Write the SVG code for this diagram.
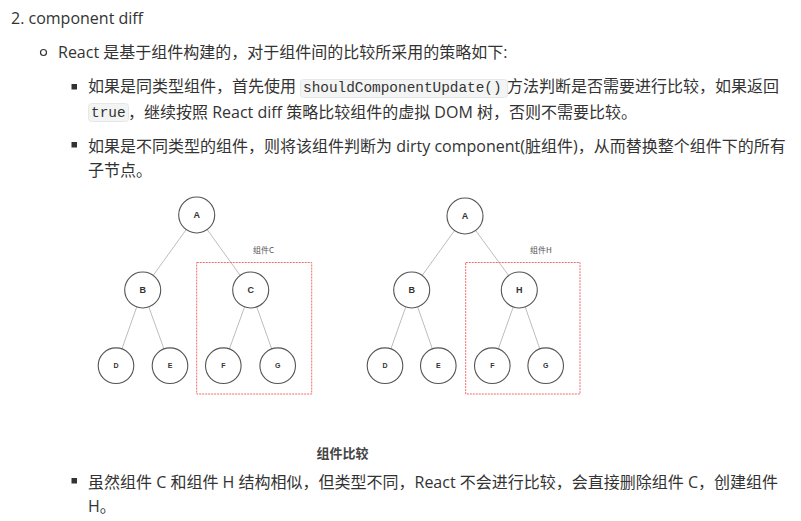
<svg xmlns="http://www.w3.org/2000/svg" width="801" height="521" viewBox="0 0 801 521">
<style>
.t{font-family:"Open Sans","Noto Sans CJK SC",sans-serif;font-size:16px;fill:#333}
.code{font-family:"Liberation Mono","DejaVu Sans Mono",monospace;font-size:14.4px;fill:#333}
.cbg{fill:#f3f4f4;stroke:#e6e8e8;stroke-width:1}
.bul{fill:#333}
.node circle{fill:#fff;stroke:#555;stroke-width:1.1}
.node text{font-family:"Liberation Sans","Noto Sans CJK SC",sans-serif;fill:#333;text-anchor:middle;font-weight:bold}
.big{font-size:9px}
.small{font-size:7px}
.edge{stroke:#bdbdbd;stroke-width:1}
.grp{fill:none;stroke:#f06a6a;stroke-width:1;stroke-dasharray:2 1}
.glabel{font-family:"Noto Sans CJK SC",sans-serif;font-size:8px;fill:#555}
.cap{font-family:"Noto Sans CJK SC",sans-serif;font-size:13px;fill:#444;font-weight:bold}
</style>
<rect width="801" height="521" fill="#fff"/>
<text class="t" x="11" y="24">2. component diff</text>
<circle cx="43.5" cy="52.5" r="3" fill="none" stroke="#333" stroke-width="1.2"/>
<text class="t" x="58" y="58">React 是基于组件构建的，对于组件间的比较所采用的策略如下:</text>
<rect class="bul" x="71.5" y="84" width="5.5" height="5.5"/>
<text class="t" x="88" y="92">如果是同类型组件，首先使用</text>
<rect class="cbg" x="300.5" y="79.5" width="207" height="18" rx="3"/>
<text class="code" x="303" y="92">shouldComponentUpdate()</text>
<text class="t" x="507" y="92">方法判断是否需要进行比较，如果返回</text>
<rect class="cbg" x="88.5" y="103.5" width="40" height="18" rx="3"/>
<text class="code" x="91" y="117">true</text>
<text class="t" x="128" y="118">，继续按照 React diff 策略比较组件的虚拟 DOM 树，否则不需要比较。</text>
<rect class="bul" x="71.5" y="142" width="5.5" height="5.5"/>
<text class="t" x="88" y="152">如果是不同类型的组件，则将该组件判断为 dirty component(脏组件)，从而替换整个组件下的所有</text>
<text class="t" x="88" y="176">子节点。</text>
<g id="connectors">
<line class="edge" x1="196.7" y1="215" x2="142.7" y2="290"/>
<line class="edge" x1="196.7" y1="215" x2="250.7" y2="290"/>
<line class="edge" x1="142.7" y1="290" x2="116" y2="365.7"/>
<line class="edge" x1="142.7" y1="290" x2="170" y2="365.7"/>
<line class="edge" x1="250.7" y1="290" x2="223.3" y2="365.7"/>
<line class="edge" x1="250.7" y1="290" x2="277.7" y2="365.7"/>
<line class="edge" x1="465" y1="216" x2="411.7" y2="290"/>
<line class="edge" x1="465" y1="216" x2="519.3" y2="290"/>
<line class="edge" x1="411.7" y1="290" x2="385" y2="365.7"/>
<line class="edge" x1="411.7" y1="290" x2="438.3" y2="365.7"/>
<line class="edge" x1="519.3" y1="290" x2="492.3" y2="365.7"/>
<line class="edge" x1="519.3" y1="290" x2="545.7" y2="365.7"/>
</g>
<rect class="grp" x="196.7" y="262.5" width="115" height="131.5"/>
<text class="glabel" x="253" y="253">组件C</text>
<rect class="grp" x="465.7" y="262.5" width="114.3" height="131.5"/>
<text class="glabel" x="530" y="253">组件H</text>
<g id="L_A" class="node"><circle cx="196.7" cy="215" r="18"/><text class="big" x="196.7" y="218.3">A</text></g>
<g id="L_B" class="node"><circle cx="142.7" cy="290" r="18"/><text class="big" x="142.7" y="293.3">B</text></g>
<g id="L_C" class="node"><circle cx="250.7" cy="290" r="18"/><text class="big" x="250.7" y="293.3">C</text></g>
<g id="L_D" class="node"><circle cx="116" cy="365.7" r="17.8"/><text class="small" x="116" y="368.2">D</text></g>
<g id="L_E" class="node"><circle cx="170" cy="365.7" r="17.8"/><text class="small" x="170" y="368.2">E</text></g>
<g id="L_F" class="node"><circle cx="223.3" cy="365.7" r="17.8"/><text class="small" x="223.3" y="368.2">F</text></g>
<g id="L_G" class="node"><circle cx="277.7" cy="365.7" r="17.8"/><text class="small" x="277.7" y="368.2">G</text></g>
<g id="R_A" class="node"><circle cx="465" cy="216" r="18"/><text class="big" x="465" y="219.3">A</text></g>
<g id="R_B" class="node"><circle cx="411.7" cy="290" r="18"/><text class="big" x="411.7" y="293.3">B</text></g>
<g id="R_H" class="node"><circle cx="519.3" cy="290" r="18"/><text class="big" x="519.3" y="293.3">H</text></g>
<g id="R_D" class="node"><circle cx="385" cy="365.7" r="17.8"/><text class="small" x="385" y="368.2">D</text></g>
<g id="R_E" class="node"><circle cx="438.3" cy="365.7" r="17.8"/><text class="small" x="438.3" y="368.2">E</text></g>
<g id="R_F" class="node"><circle cx="492.3" cy="365.7" r="17.8"/><text class="small" x="492.3" y="368.2">F</text></g>
<g id="R_G" class="node"><circle cx="545.7" cy="365.7" r="17.8"/><text class="small" x="545.7" y="368.2">G</text></g>
<text class="cap" x="342.5" y="457.5" text-anchor="middle">组件比较</text>
<rect class="bul" x="71.5" y="478" width="5.5" height="5.5"/>
<text class="t" x="88" y="488">虽然组件 C 和组件 H 结构相似，但类型不同，React 不会进行比较，会直接删除组件 C，创建组件</text>
<text class="t" x="88" y="512">H。</text>
</svg>
